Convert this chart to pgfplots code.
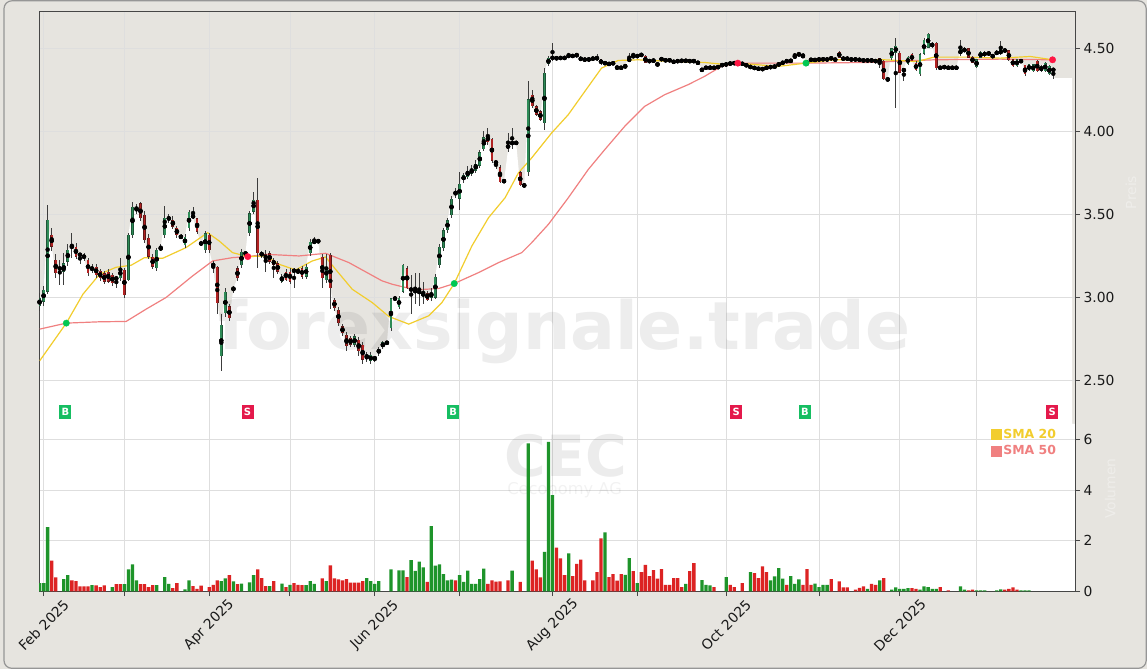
\documentclass[border=0pt]{standalone}
\usepackage{fontspec}
\setmainfont{DejaVu Sans}
\usepackage{pgfplots}
\usepackage{pgfplotstable}
\pgfplotsset{compat=1.18}

\definecolor{bgc}{RGB}{230,228,223}
\definecolor{bordc}{RGB}{150,150,150}
\definecolor{gridc}{RGB}{222,222,222}
\definecolor{spinec}{RGB}{70,70,70}
\definecolor{tickc}{RGB}{25,25,25}
\definecolor{gBody}{RGB}{46,139,87}
\definecolor{gEdge}{RGB}{30,85,55}
\definecolor{rBody}{RGB}{178,34,34}
\definecolor{rEdge}{RGB}{95,25,25}
\definecolor{wickc}{RGB}{60,60,60}
\definecolor{volG}{RGB}{30,148,42}
\definecolor{volR}{RGB}{220,35,35}
\definecolor{smaA}{RGB}{242,205,45}
\definecolor{smaB}{RGB}{240,128,128}
\definecolor{dotG}{RGB}{0,200,83}
\definecolor{dotR}{RGB}{255,23,68}
\definecolor{buyc}{RGB}{22,190,98}
\definecolor{sellc}{RGB}{228,25,75}

% daily candles, x = trading day index
\pgfplotstableread{
i o h l c
0 2.946 3.030 2.920 2.996
1 2.976 3.070 2.950 3.046
2 3.036 3.556 3.020 3.466
3 3.376 3.420 3.280 3.306
4 3.226 3.260 3.120 3.146
5 3.170 3.226 3.076 3.180
6 3.156 3.266 3.076 3.206
7 3.216 3.320 3.190 3.286
8 3.310 3.386 3.236 3.300
9 3.306 3.330 3.230 3.246
10 3.260 3.270 3.200 3.255
11 3.256 3.270 3.220 3.236
12 3.226 3.240 3.130 3.146
13 3.160 3.200 3.150 3.186
14 3.186 3.200 3.120 3.136
15 3.160 3.170 3.100 3.116
16 3.146 3.160 3.080 3.096
17 3.156 3.170 3.090 3.096
18 3.136 3.150 3.070 3.086
19 3.120 3.130 3.056 3.110
20 3.116 3.236 3.100 3.176
21 3.166 3.180 3.000 3.016
22 3.106 3.390 3.100 3.376
23 3.376 3.576 3.360 3.546
24 3.530 3.560 3.500 3.540
25 3.566 3.576 3.460 3.476
26 3.496 3.520 3.330 3.346
27 3.360 3.380 3.230 3.246
28 3.246 3.260 3.170 3.186
29 3.176 3.300 3.160 3.286
30 3.290 3.320 3.280 3.300
31 3.376 3.550 3.360 3.480
32 3.466 3.500 3.450 3.486
33 3.466 3.490 3.410 3.426
34 3.420 3.430 3.360 3.376
35 3.370 3.380 3.350 3.360
36 3.316 3.380 3.300 3.366
37 3.416 3.526 3.400 3.516
38 3.500 3.546 3.470 3.476
39 3.476 3.480 3.380 3.396
40 3.330 3.340 3.310 3.320
41 3.286 3.400 3.270 3.386
42 3.376 3.390 3.270 3.286
43 3.206 3.220 3.150 3.186
44 3.186 3.190 2.900 2.966
45 2.646 2.900 2.556 2.836
46 2.906 3.060 2.880 3.036
47 2.946 2.960 2.860 2.876
48 3.050 3.070 3.030 3.056
49 3.176 3.190 3.100 3.116
50 3.196 3.290 3.180 3.276
51 3.260 3.280 3.250 3.270
52 3.386 3.520 3.370 3.506
53 3.516 3.636 3.500 3.586
54 3.586 3.716 3.176 3.266
55 3.266 3.280 3.240 3.256
56 3.260 3.286 3.156 3.226
57 3.266 3.280 3.200 3.216
58 3.226 3.240 3.116 3.196
59 3.206 3.220 3.140 3.156
60 3.096 3.140 3.090 3.126
61 3.156 3.170 3.100 3.106
62 3.156 3.180 3.080 3.096
63 3.166 3.180 3.056 3.156
64 3.146 3.180 3.140 3.166
65 3.176 3.190 3.110 3.126
66 3.126 3.200 3.110 3.186
67 3.266 3.350 3.250 3.336
68 3.330 3.366 3.320 3.340
69 3.340 3.350 3.330 3.336
70 3.246 3.260 3.060 3.116
71 3.106 3.260 3.090 3.186
72 3.256 3.270 2.930 3.056
73 2.986 3.000 2.920 2.936
74 2.926 2.940 2.830 2.846
75 2.826 2.840 2.770 2.786
76 2.776 2.790 2.680 2.706
77 2.756 2.770 2.700 2.716
78 2.716 2.780 2.700 2.766
79 2.746 2.760 2.650 2.676
80 2.716 2.730 2.600 2.626
81 2.636 2.670 2.610 2.656
82 2.616 2.670 2.600 2.656
83 2.640 2.650 2.610 2.630
84 2.666 2.700 2.650 2.690
85 2.700 2.740 2.690 2.730
86 2.725 2.740 2.715 2.730
87 2.817 3.000 2.800 2.996
88 2.990 3.010 2.980 2.996
89 2.940 3.010 2.930 3.000
90 3.036 3.200 3.030 3.196
91 3.176 3.190 3.050 3.056
92 3.050 3.136 2.900 3.046
93 3.040 3.146 2.960 3.036
94 3.036 3.146 2.950 3.030
95 3.016 3.096 2.960 3.020
96 3.026 3.040 2.980 2.986
97 3.000 3.060 2.980 3.030
98 3.000 3.140 2.990 3.126
99 3.195 3.320 3.180 3.305
100 3.295 3.420 3.280 3.405
101 3.405 3.480 3.390 3.465
102 3.495 3.610 3.480 3.594
103 3.640 3.660 3.600 3.614
104 3.594 3.755 3.525 3.684
105 3.704 3.750 3.690 3.734
106 3.724 3.790 3.710 3.764
107 3.744 3.800 3.730 3.774
108 3.764 3.830 3.750 3.804
109 3.793 3.890 3.780 3.873
110 3.893 4.000 3.880 3.963
111 3.976 4.022 3.920 3.933
112 3.953 3.960 3.810 3.823
113 3.815 3.823 3.773 3.810
114 3.783 3.800 3.690 3.693
115 3.700 3.710 3.690 3.700
116 3.923 3.990 3.873 3.893
117 3.925 4.022 3.893 3.933
118 3.930 3.935 3.925 3.930
119 3.753 3.760 3.670 3.674
120 3.674 3.680 3.670 3.674
121 3.753 4.300 3.733 4.192
122 4.220 4.250 4.140 4.150
123 4.150 4.160 4.090 4.100
124 4.120 4.130 4.060 4.070
125 4.050 4.380 4.010 4.350
126 4.402 4.450 4.390 4.442
127 4.438 4.532 4.420 4.446
128 4.446 4.450 4.430 4.432
129 4.440 4.446 4.436 4.442
130 4.442 4.448 4.436 4.440
131 4.448 4.472 4.444 4.458
132 4.452 4.460 4.446 4.454
133 4.452 4.470 4.448 4.462
134 4.446 4.450 4.420 4.426
135 4.432 4.436 4.426 4.430
136 4.432 4.436 4.428 4.432
137 4.436 4.442 4.432 4.438
138 4.426 4.462 4.420 4.452
139 4.432 4.436 4.400 4.406
140 4.418 4.420 4.400 4.402
141 4.406 4.410 4.400 4.404
142 4.416 4.420 4.398 4.402
143 4.382 4.386 4.380 4.384
144 4.378 4.390 4.374 4.386
145 4.382 4.406 4.372 4.402
146 4.418 4.472 4.414 4.442
147 4.450 4.472 4.446 4.452
148 4.452 4.458 4.448 4.452
149 4.466 4.470 4.450 4.452
150 4.452 4.456 4.408 4.412
151 4.422 4.426 4.418 4.422
152 4.432 4.436 4.414 4.418
153 4.402 4.406 4.398 4.402
154 4.442 4.446 4.422 4.426
155 4.432 4.436 4.418 4.422
156 4.432 4.436 4.418 4.422
157 4.418 4.422 4.414 4.418
158 4.422 4.426 4.418 4.422
159 4.418 4.434 4.414 4.430
160 4.418 4.434 4.414 4.430
161 4.426 4.430 4.414 4.418
162 4.422 4.426 4.418 4.422
163 4.412 4.416 4.408 4.412
164 4.362 4.382 4.356 4.378
165 4.382 4.386 4.378 4.382
166 4.392 4.396 4.368 4.372
167 4.382 4.386 4.378 4.382
168 4.386 4.390 4.382 4.386
169 4.398 4.402 4.394 4.398
170 4.402 4.406 4.398 4.402
171 4.412 4.416 4.400 4.402
172 4.410 4.414 4.406 4.410
173 4.406 4.410 4.402 4.406
174 4.406 4.410 4.402 4.406
175 4.402 4.406 4.388 4.392
176 4.392 4.396 4.378 4.382
177 4.386 4.390 4.372 4.376
178 4.382 4.386 4.366 4.370
179 4.376 4.380 4.368 4.372
180 4.382 4.386 4.378 4.382
181 4.386 4.390 4.382 4.386
182 4.386 4.396 4.382 4.392
183 4.402 4.406 4.398 4.402
184 4.406 4.422 4.402 4.418
185 4.426 4.430 4.414 4.418
186 4.418 4.434 4.414 4.430
187 4.446 4.472 4.442 4.452
188 4.462 4.470 4.458 4.462
189 4.462 4.472 4.440 4.442
190 4.410 4.422 4.392 4.418
191 4.438 4.442 4.418 4.422
192 4.422 4.440 4.418 4.436
193 4.432 4.436 4.428 4.432
194 4.428 4.442 4.424 4.438
195 4.422 4.446 4.418 4.442
196 4.446 4.450 4.428 4.432
197 4.432 4.436 4.426 4.430
198 4.478 4.482 4.438 4.442
199 4.446 4.450 4.424 4.428
200 4.446 4.450 4.424 4.428
201 4.432 4.436 4.428 4.432
202 4.436 4.440 4.424 4.428
203 4.430 4.434 4.426 4.430
204 4.426 4.430 4.422 4.426
205 4.426 4.430 4.422 4.426
206 4.426 4.430 4.422 4.426
207 4.422 4.426 4.418 4.422
208 4.438 4.440 4.382 4.412
209 4.422 4.426 4.306 4.312
210 4.312 4.316 4.308 4.312
211 4.438 4.500 4.430 4.498
212 4.472 4.562 4.138 4.512
213 4.472 4.480 4.350 4.352
214 4.358 4.380 4.302 4.378
215 4.406 4.450 4.400 4.446
216 4.466 4.470 4.420 4.422
217 4.412 4.420 4.360 4.366
218 4.342 4.470 4.330 4.462
219 4.466 4.560 4.460 4.552
220 4.502 4.592 4.500 4.586
221 4.506 4.540 4.500 4.532
222 4.532 4.540 4.370 4.378
223 4.382 4.386 4.378 4.382
224 4.386 4.390 4.382 4.386
225 4.382 4.386 4.378 4.382
226 4.382 4.386 4.378 4.382
227 4.382 4.386 4.378 4.382
228 4.462 4.552 4.455 4.492
229 4.478 4.505 4.474 4.498
230 4.498 4.502 4.438 4.442
231 4.446 4.450 4.408 4.412
232 4.386 4.436 4.380 4.432
233 4.442 4.482 4.438 4.478
234 4.452 4.482 4.448 4.478
235 4.458 4.482 4.454 4.478
236 4.462 4.466 4.438 4.442
237 4.462 4.486 4.458 4.482
238 4.462 4.546 4.458 4.492
239 4.486 4.490 4.482 4.486
240 4.486 4.490 4.422 4.426
241 4.432 4.436 4.388 4.392
242 4.392 4.436 4.388 4.432
243 4.412 4.436 4.408 4.432
244 4.398 4.400 4.330 4.342
245 4.366 4.406 4.362 4.402
246 4.362 4.406 4.358 4.402
247 4.422 4.426 4.358 4.362
248 4.362 4.396 4.358 4.392
249 4.362 4.416 4.358 4.412
250 4.342 4.396 4.338 4.392
251 4.362 4.380 4.312 4.378
}\candles

% volume in millions, rising days
\pgfplotstableread{
i v
0 0.33
1 0.33
2 2.54
6 0.48
7 0.64
13 0.25
18 0.17
21 0.29
22 0.87
23 1.07
24 0.43
29 0.25
31 0.56
32 0.30
36 0.08
37 0.43
45 0.40
46 0.51
48 0.39
50 0.31
52 0.35
53 0.64
57 0.21
60 0.31
62 0.26
66 0.25
67 0.40
68 0.30
71 0.40
81 0.52
82 0.40
83 0.30
84 0.40
87 0.87
89 0.83
90 0.83
92 1.23
93 0.81
94 1.17
95 0.95
97 2.58
98 1.02
99 1.07
100 0.68
101 0.43
102 0.46
104 0.64
105 0.37
106 0.82
107 0.30
108 0.30
109 0.48
110 0.90
117 0.82
121 5.84
125 1.56
126 5.90
127 3.80
131 1.50
140 2.33
145 0.65
146 1.31
148 0.33
160 0.30
164 0.44
165 0.26
166 0.24
170 0.56
176 0.76
181 0.43
182 0.59
183 0.92
184 0.50
186 0.60
187 0.30
188 0.47
192 0.31
193 0.17
194 0.26
195 0.26
205 0.10
208 0.43
211 0.07
212 0.16
213 0.10
214 0.10
215 0.13
218 0.07
219 0.20
220 0.17
221 0.10
222 0.10
228 0.20
229 0.07
232 0.04
233 0.04
234 0.04
237 0.04
238 0.08
243 0.04
244 0.04
245 0.04
}\volup

% volume in millions, falling days
\pgfplotstableread{
i v
3 1.21
4 0.55
8 0.43
9 0.40
10 0.20
11 0.20
12 0.20
14 0.24
15 0.17
16 0.24
19 0.29
20 0.29
25 0.29
26 0.29
27 0.17
28 0.25
33 0.13
34 0.33
38 0.21
39 0.10
40 0.23
42 0.17
43 0.26
44 0.43
47 0.64
49 0.29
54 0.87
55 0.52
56 0.21
58 0.40
61 0.17
63 0.33
64 0.26
65 0.25
70 0.51
72 1.03
73 0.51
74 0.47
75 0.43
76 0.48
77 0.34
78 0.34
79 0.34
80 0.40
91 0.56
96 0.37
103 0.43
111 0.30
112 0.43
113 0.38
114 0.39
116 0.43
119 0.37
122 1.21
123 0.87
124 0.55
128 1.73
129 1.30
130 0.64
132 0.60
133 1.09
134 1.25
135 0.43
137 0.43
138 0.76
139 2.09
141 0.56
142 0.68
143 0.42
144 0.68
147 0.80
149 0.76
150 1.05
151 0.60
152 0.84
153 0.50
154 0.88
155 0.26
156 0.26
157 0.52
158 0.52
159 0.17
161 0.80
162 1.11
167 0.17
171 0.26
172 0.17
174 0.33
177 0.72
178 0.52
179 0.99
180 0.76
185 0.26
189 0.26
190 0.88
191 0.26
196 0.48
198 0.39
199 0.16
200 0.16
202 0.07
203 0.14
204 0.20
206 0.30
207 0.26
209 0.52
216 0.13
217 0.10
223 0.17
225 0.04
230 0.04
231 0.07
239 0.07
240 0.10
241 0.16
242 0.07
}\voldown

% volume axis: 0 at the bottom edge, 25.4 px per million; price axis 166.7 px per EUR
\newcommand{\volbase}{1.2324}
\newcommand{\volscale}{0.15237}

\begin{document}
\pagecolor{bgc}
\begin{tikzpicture}[x=1pt,y=1pt]
\begin{axis}[
  set layers,
  scale only axis, width=1039pt, height=581pt,
  xmin=-0.123, xmax=256.42, ymin=1.2324, ymax=4.7178,
  axis background/.style={fill=bgc},
  axis line style={spinec, line width=1pt},
  tick style={spinec, line width=1pt},
  tick align=outside, major tick length=4.9pt,
  ticklabel style={font=\fontsize{13.9}{16}\selectfont, text=tickc},
  /pgf/number format/assume math mode=true,
  xtick={1,21,42,62,83,104,127,148,170,193,213,232},
  xticklabels={Feb 2025,,Apr 2025,,Jun 2025,,Aug 2025,,Oct 2025,,Dec 2025,},
  xtick pos=bottom,
  xticklabel style={rotate=45, anchor=center, xshift=-20.5pt, yshift=-20.5pt},
  ytick={2.5,3,3.5,4,4.5}, ytick pos=right, yticklabel pos=right,
  yticklabel style={/pgf/number format/.cd, fixed, fixed zerofill, precision=2},
  extra y ticks={1.2324,1.5371,1.8419,2.1466},
  extra y tick labels={0,2,4,6},
  extra y tick style={grid=major},
  xmajorgrids, ymajorgrids,
  grid style={gridc, line width=0.9pt},
  legend style={at={(0.9836,0.284)}, anchor=north east, draw=none, fill=none,
    font=\bfseries\fontsize{12.5}{14}\selectfont, inner sep=0pt, row sep=2pt,
    /tikz/every even column/.append style={column sep=4pt}},
  legend cell align=left]

\coordinate (O) at (rel axis cs:0,0);

% white below the close, grey above
\addplot[on layer=axis background, fill=white, draw=none, forget plot] table[x=i, y=c]{\candles} \closedcycle;
\addplot[on layer=axis background, fill=white, draw=none, forget plot] coordinates {(250.9,4.378) (251.3,4.32) (255.68,4.32) (255.68,2.2403) (256.42,2.2403) (256.42,1.2324) (250.9,1.2324)} -- cycle;

% watermarks
\node[anchor=base, text=black, text opacity=0.07, font=\bfseries\fontsize{66.6}{70}\selectfont] at (axis cs:129.88,2.690) {forexsignale.trade};
\node[anchor=base, text=black, text opacity=0.075, font=\bfseries\fontsize{57}{60}\selectfont] at (axis cs:130.25,1.9226) {CEC};
\node[anchor=base, text=black, text opacity=0.05, font=\fontsize{16.3}{18}\selectfont] at (axis cs:130.0,1.8145) {Ceconomy AG};

% volume bars on the lower scale
\addplot[ybar, bar width=3.3pt, bar shift=0pt, fill=volG, draw=none, forget plot]
  table[x=i, y expr={\volbase+\volscale*\thisrow{v}}]{\volup};
\addplot[ybar, bar width=3.3pt, bar shift=0pt, fill=volR, draw=none, forget plot]
  table[x=i, y expr={\volbase+\volscale*\thisrow{v}}]{\voldown};

% moving averages
\addplot[smaB, line width=1.2pt, forget plot] coordinates {
(0.05,2.810) (6.62,2.846) (14.86,2.854) (21.43,2.856) (26.37,2.930) (31.31,3.000)
(37.9,3.130) (42.84,3.220) (47.78,3.240) (51.56,3.246) (56.0,3.260) (64.25,3.250)
(70.81,3.266) (76.59,3.210) (84.81,3.100) (87.28,3.080) (93.04,3.046) (98.81,3.054)
(102.67,3.084) (108.69,3.150) (113.63,3.210) (119.38,3.270) (121.85,3.330) (125.98,3.440)
(130.91,3.600) (135.85,3.770) (139.95,3.890) (144.89,4.030) (149.83,4.150) (154.77,4.220)
(160.54,4.280) (164.64,4.330) (168.77,4.390) (172.89,4.410) (189.75,4.410) (204.99,4.414)
(221.43,4.430) (237.9,4.434) (250.81,4.430)};
\addplot[smaA, line width=1.2pt, forget plot] coordinates {
(0.05,2.620) (6.62,2.846) (10.74,3.020) (14.86,3.140) (18.96,3.182) (22.67,3.194)
(25.98,3.240) (30.49,3.236) (36.25,3.300) (41.60,3.390) (44.49,3.340) (47.78,3.270)
(51.56,3.246) (56.0,3.250) (59.31,3.200) (63.41,3.166) (67.53,3.220) (70.81,3.244)
(73.28,3.170) (77.41,3.050) (82.35,2.970) (86.47,2.886) (91.41,2.840) (96.35,2.890)
(99.63,2.970) (102.67,3.084) (107.04,3.310) (111.16,3.480) (115.26,3.600) (118.57,3.750)
(121.85,3.840) (126.79,3.990) (130.91,4.100) (135.01,4.240) (139.14,4.380) (143.26,4.426)
(148.2,4.430) (156.42,4.420) (164.64,4.414) (168.77,4.404) (172.89,4.410) (182.77,4.390)
(189.75,4.410) (196.74,4.430) (209.09,4.430) (217.33,4.420) (221.43,4.446) (229.68,4.446)
(237.9,4.440) (245.31,4.450) (250.81,4.430)};

% wicks
\addplot[only marks, mark=none, forget plot,
  error bars/.cd, y dir=both, y explicit, error mark=none,
  error bar style={line width=0.8pt, wickc}]
  table[x=i, y expr={0.5*(\thisrow{h}+\thisrow{l})}, y error expr={0.5*(\thisrow{h}-\thisrow{l})}]{\candles};
% rising bodies
\addplot[only marks, mark=none, forget plot,
  error bars/.cd, y dir=both, y explicit, error mark=none,
  error bar style={line width=2.8pt, gEdge}]
  table[x=i, y expr={\thisrow{c}>=\thisrow{o} ? 0.5*(\thisrow{o}+\thisrow{c}) : nan},
    y error expr={max(0.5*abs(\thisrow{c}-\thisrow{o}),0.0015)}]{\candles};
\addplot[only marks, mark=none, forget plot,
  error bars/.cd, y dir=both, y explicit, error mark=none,
  error bar style={line width=1.8pt, gBody}]
  table[x=i, y expr={\thisrow{c}>=\thisrow{o} ? 0.5*(\thisrow{o}+\thisrow{c}) : nan},
    y error expr={max(0.5*abs(\thisrow{c}-\thisrow{o})-0.002,0.0003)}]{\candles};
% falling bodies
\addplot[only marks, mark=none, forget plot,
  error bars/.cd, y dir=both, y explicit, error mark=none,
  error bar style={line width=2.8pt, rEdge}]
  table[x=i, y expr={\thisrow{c}<\thisrow{o} ? 0.5*(\thisrow{o}+\thisrow{c}) : nan},
    y error expr={max(0.5*abs(\thisrow{c}-\thisrow{o}),0.0015)}]{\candles};
\addplot[only marks, mark=none, forget plot,
  error bars/.cd, y dir=both, y explicit, error mark=none,
  error bar style={line width=1.8pt, rBody}]
  table[x=i, y expr={\thisrow{c}<\thisrow{o} ? 0.5*(\thisrow{o}+\thisrow{c}) : nan},
    y error expr={max(0.5*abs(\thisrow{c}-\thisrow{o})-0.002,0.0003)}]{\candles};

% crossover dots
\addplot[only marks, mark=*, mark size=3.2pt, color=dotG, forget plot] coordinates {(6.62,2.846) (102.67,3.084) (189.75,4.410)};
\addplot[only marks, mark=*, mark size=3.2pt, color=dotR, forget plot] coordinates {(51.56,3.246) (172.89,4.410) (250.81,4.430)};

% signal labels
\addplot[only marks, mark=none, forget plot, point meta=explicit symbolic,
  nodes near coords,
  every node near coord/.append style={anchor=center, fill=buyc, text=white,
    font=\bfseries\fontsize{10}{10}\selectfont, inner sep=0pt, minimum width=12pt, minimum height=14pt}]
  table[row sep=\\, meta=t]{x y t\\ 6.4 2.312 B\\ 102.4 2.312 B\\ 189.5 2.312 B\\};
\addplot[only marks, mark=none, forget plot, point meta=explicit symbolic,
  nodes near coords,
  every node near coord/.append style={anchor=center, fill=sellc, text=white,
    font=\bfseries\fontsize{10}{10}\selectfont, inner sep=0pt, minimum width=12pt, minimum height=14pt}]
  table[row sep=\\, meta=t]{x y t\\ 51.5 2.312 S\\ 172.5 2.312 S\\ 250.7 2.312 S\\};

\addlegendimage{legend image code/.code={\fill[smaA] (0pt,-5pt) rectangle (10pt,5pt);}}
\addlegendentry{\textcolor{smaA}{SMA 20}}
\addlegendimage{legend image code/.code={\fill[smaB] (0pt,-5pt) rectangle (10pt,5pt);}}
\addlegendentry{\textcolor{smaB}{SMA 50}}
\end{axis}

\node[rotate=90, text=white, text opacity=0.35, font=\fontsize{13.9}{16}\selectfont] at ([shift={(1095,400)}]O) {Preis};
\node[rotate=90, text=white, text opacity=0.35, font=\fontsize{13.9}{16}\selectfont] at ([shift={(1074,103)}]O) {Volumen};
\draw[bordc, line width=1.2pt, rounded corners=8pt] ([shift={(-35.2,-77.2)}]O) rectangle ([shift={(1110.2,592.2)}]O);
\pgfresetboundingbox
\path[use as bounding box] ([shift={(-36,-78)}]O) rectangle ([shift={(1111,593)}]O);
\end{tikzpicture}
\end{document}
